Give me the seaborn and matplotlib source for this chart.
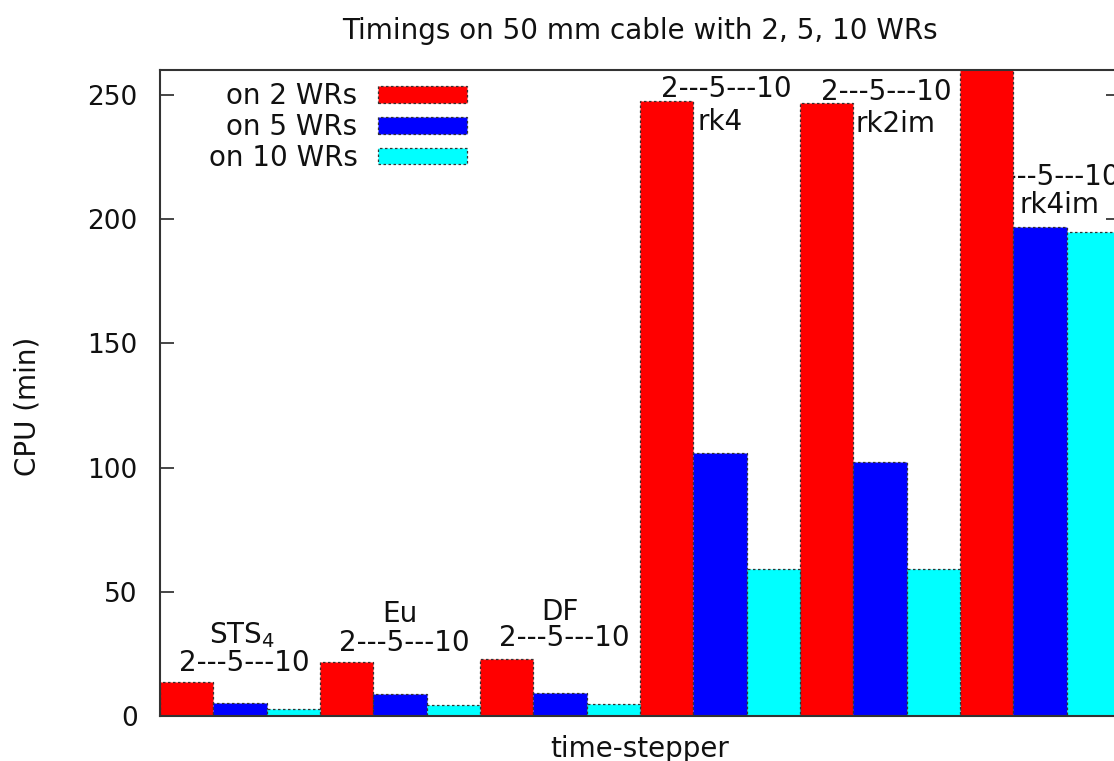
import numpy as np
import pandas as pd
import matplotlib
matplotlib.use("Agg")
import matplotlib.pyplot as plt
import seaborn as sns

# timings (CPU minutes)
steppers = ['STS4', 'Eu', 'DF', 'rk4', 'rk2im', 'rk4im']
on_2_wrs = [13.7, 21.8, 23.1, 247.5, 246.7, 290.0]
on_5_wrs = [5.4, 8.7, 9.4, 106.0, 102.4, 196.9]
on_10_wrs = [2.7, 4.4, 4.8, 59.3, 59.3, 194.9]
series_names = ['on 2 WRs', 'on 5 WRs', 'on 10 WRs']

# group annotations (text, x in category units, y in minutes)
group_labels = [
    ('STS$_4$', 0.01, 32.7), ('2---5---10', 0.03, 21.4),
    ('Eu', 1.0, 41.0), ('2---5---10', 1.03, 29.4),
    ('DF', 2.0, 42.0), ('2---5---10', 2.03, 31.4),
    ('2---5---10', 3.04, 252.4), ('rk4', 3.0, 239.0),
    ('2---5---10', 4.04, 251.0), ('rk2im', 4.1, 238.3),
    ('2---5---10', 5.09, 217.0), ('rk4im', 5.125, 205.5),
]

df = pd.DataFrame({
    'stepper': steppers * 3,
    'cpu': on_2_wrs + on_5_wrs + on_10_wrs,
    'series': np.repeat(series_names, len(steppers)),
})

sns.set_style('white')
plt.rcParams['font.family'] = ['DejaVu Sans']
plt.rcParams['mathtext.fontset'] = 'dejavusans'
fs = 20
tick_fs = 19
ink = '#111111'

fig = plt.figure(figsize=(11.14, 7.61), dpi=100)
ax = fig.add_axes([160 / 1114, 45 / 761, 960 / 1114, 646 / 761])

sns.barplot(data=df, x='stepper', y='cpu', hue='series', order=steppers,
            hue_order=series_names, palette=['#ff0000', '#0000ff', '#00ffff'],
            width=1.0, gap=0, saturation=1, errorbar=None, ax=ax,
            edgecolor='#333333', linewidth=0.9, linestyle=(0, (2, 2)))
for p in ax.patches:
    p.set_zorder(2)

ax.set_xlim(-0.5, 5.5)
ax.set_ylim(0, 260)
ax.set_yticks([0, 50, 100, 150, 200, 250])
ax.set_xticks([])
ax.tick_params(axis='y', direction='in', length=10, width=1.2, left=True,
               right=True, labelsize=tick_fs, pad=16, labelcolor=ink)
for s in ax.spines.values():
    s.set_color('#333333')
    s.set_linewidth(1.5)
    s.set_zorder(5)

for txt, x, y in group_labels:
    ax.text(x, y, txt, ha='center', va='center', fontsize=fs, zorder=1,
            color=ink)

ax.set_title('Timings on 50 mm cable with 2, 5, 10 WRs', fontsize=fs,
             pad=22, color=ink)
ax.set_xlabel('time-stepper', fontsize=fs, color=ink)
ax.xaxis.set_label_coords(0.5, -0.029)
ax.set_ylabel('CPU (min)', fontsize=fs, color=ink)
ax.yaxis.set_label_coords(-0.123, 0.48)

leg = ax.legend(loc='upper right', bbox_to_anchor=(0.32, 0.981),
                frameon=False, markerfirst=False, fontsize=fs,
                handlelength=3.2, handleheight=0.55, labelspacing=0.1,
                handletextpad=0.75, borderpad=0, borderaxespad=0)
for t in leg.get_texts():
    t.set_color(ink)

fig.savefig('out.png', dpi=100)
